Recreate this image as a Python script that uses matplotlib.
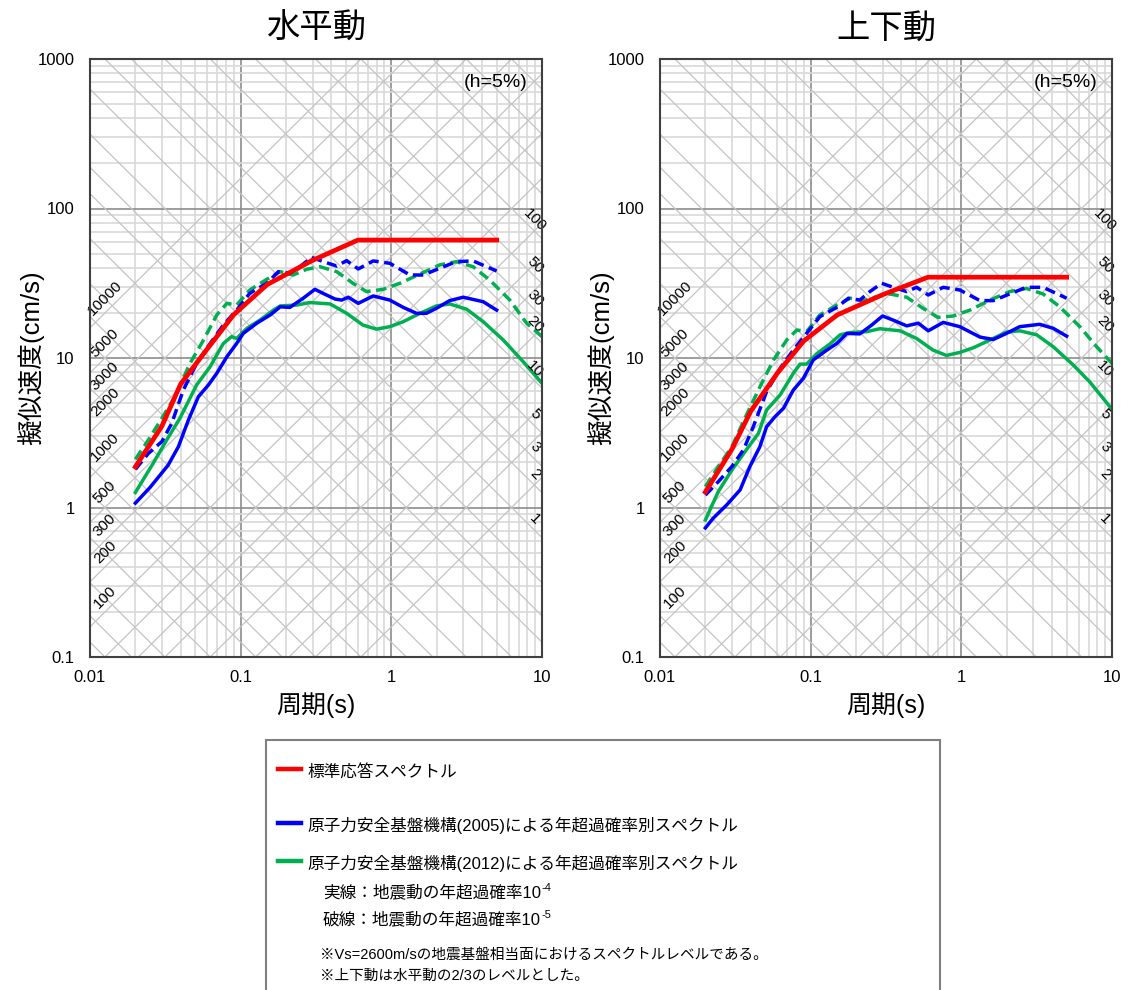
import numpy as np
import matplotlib
matplotlib.use('Agg')
import matplotlib.pyplot as plt
from matplotlib.lines import Line2D
from matplotlib.patches import Rectangle
from matplotlib.text import Annotation
from matplotlib.ticker import LogLocator, NullFormatter

plt.rcParams['font.family'] = ['Liberation Sans', 'Noto Sans CJK JP']

# ---------------- data ----------------
TITLES = ['水平動', '上下動']
XLABEL = '周期(s)'
YLABEL = '擬似速度(cm/s)'
X_TICKS = [0.01, 0.1, 1, 10]
X_TICK_LABELS = ['0.01', '0.1', '1', '10']
Y_TICKS = [0.1, 1, 10, 100, 1000]
Y_TICK_LABELS = ['0.1', '1', '10', '100', '1000']
DAMPING = '(h=5%)'

ACC_LINES = [1, 2, 3, 5, 10, 20, 30, 50, 100, 200, 300, 500,
             1000, 2000, 3000, 5000, 10000]
DISP_LINES = [0.0001, 0.0002, 0.0003, 0.0005, 0.001, 0.002, 0.003, 0.005,
              0.01, 0.02, 0.03, 0.05, 0.1, 0.2, 0.3, 0.5, 1, 2, 3, 5,
              10, 20, 30, 50, 100, 200, 300, 500, 1000]
ACC_LABELS = [100, 200, 300, 500, 1000, 2000, 3000, 5000, 10000]
DISP_LABELS = [1, 2, 3, 5, 10, 20, 30, 50, 100]

# Horizontal (水平動)
H_RED_T = [0.02, 0.03, 0.04, 0.06, 0.09, 0.15, 0.30, 0.60, 5.0]
H_RED_V = [1.87, 3.5, 6.7, 11.5, 19.5, 31.0, 45.0, 61.5, 61.5]

H_BLUE_S_T = [0.02, 0.025, 0.033, 0.0386, 0.045, 0.0524, 0.061, 0.0694, 0.081,
              0.094, 0.104, 0.128, 0.157, 0.183, 0.212, 0.26, 0.311, 0.354,
              0.423, 0.468, 0.518, 0.603, 0.758, 0.977, 1.2, 1.47, 1.71, 1.99,
              2.44, 3.0, 4.07, 5.0]
H_BLUE_S_V = [1.07, 1.36, 1.92, 2.55, 3.85, 5.51, 6.59, 7.9, 10.2,
              12.5, 14.6, 17.1, 19.4, 22.0, 21.8, 25.1, 28.8, 27.0,
              24.8, 24.4, 25.5, 23.2, 26.0, 24.4, 21.8, 19.9, 19.9, 21.5,
              24.2, 25.5, 23.8, 20.9]

H_BLUE_D_T = [0.02, 0.0244, 0.030, 0.0349, 0.0416, 0.051, 0.0627, 0.0767, 0.094,
              0.115, 0.149, 0.178, 0.212, 0.247, 0.296, 0.354, 0.434, 0.505,
              0.603, 0.758, 0.977, 1.33, 1.63, 2.09, 2.70, 3.49, 5.0]
H_BLUE_D_V = [1.80, 2.30, 2.76, 3.66, 6.1, 9.2, 12.5, 16.6, 20.9,
              27.1, 31.6, 37.8, 36.8, 40.8, 47.1, 44.1, 41.2, 44.8,
              39.4, 44.6, 43.0, 35.9, 35.9, 39.8, 44.1, 44.6, 38.2]

H_GREEN_S_T = [0.02, 0.0263, 0.0323, 0.0395, 0.051, 0.0627, 0.0767, 0.087, 0.094,
               0.110, 0.134, 0.165, 0.183, 0.235, 0.288, 0.392, 0.505, 0.648,
               0.797, 0.977, 1.20, 1.55, 1.99, 2.44, 3.16, 4.07, 5.53, 7.5, 10.0]
H_GREEN_S_V = [1.26, 1.98, 2.83, 3.95, 6.6, 8.75, 12.5, 13.9, 13.5,
               15.8, 17.9, 20.9, 22.3, 22.6, 23.5, 23.0, 19.9, 16.6,
               15.6, 16.2, 17.5, 19.9, 22.3, 23.0, 21.2, 17.5, 13.2, 9.45, 6.77]

H_GREEN_D_T = [0.02, 0.0244, 0.030, 0.0366, 0.0461, 0.0567, 0.0694, 0.081, 0.094,
               0.115, 0.149, 0.183, 0.223, 0.274, 0.336, 0.434, 0.557, 0.685,
               0.882, 1.14, 1.55, 2.09, 2.70, 3.49, 4.50, 6.12, 7.9, 10.0]
H_GREEN_D_V = [2.10, 2.83, 3.95, 5.5, 9.2, 13.2, 19.4, 23.2, 22.6,
               28.5, 33.6, 37.8, 35.9, 39.2, 40.8, 37.8, 31.6, 27.8,
               28.8, 31.6, 36.5, 41.9, 44.1, 40.8, 33.2, 24.4, 17.1, 13.9]

# Vertical (上下動)
V_RED_T = [0.02, 0.03, 0.04, 0.06, 0.09, 0.15, 0.30, 0.60, 5.0]
V_RED_V = [1.27, 2.45, 4.4, 7.9, 13.0, 19.4, 26.5, 34.7, 34.7]

V_BLUE_S_T = [0.02, 0.0226, 0.0277, 0.034, 0.0395, 0.046, 0.051, 0.058, 0.066,
              0.0767, 0.0894, 0.104, 0.128, 0.149, 0.174, 0.212, 0.254, 0.30,
              0.354, 0.434, 0.518, 0.603, 0.758, 0.977, 1.33, 1.63, 1.99, 2.44,
              3.31, 4.07, 5.0]
V_BLUE_S_V = [0.73, 0.85, 1.04, 1.31, 1.88, 2.55, 3.47, 4.05, 4.61,
              6.1, 7.31, 9.7, 11.3, 12.5, 14.6, 14.5, 16.6, 19.1,
              17.9, 16.4, 17.1, 15.2, 17.3, 16.2, 13.8, 13.3, 14.6, 16.2,
              16.8, 15.8, 14.0]

V_BLUE_D_T = [0.02, 0.0244, 0.030, 0.0358, 0.0416, 0.051, 0.0627, 0.0767, 0.094,
              0.115, 0.149, 0.178, 0.212, 0.247, 0.296, 0.354, 0.434, 0.505,
              0.603, 0.758, 0.977, 1.33, 1.63, 2.09, 2.70, 3.49, 5.0]
V_BLUE_D_V = [1.21, 1.49, 1.88, 2.43, 3.47, 5.96, 8.53, 11.3, 14.6,
              18.9, 21.8, 25.1, 24.4, 27.8, 31.6, 29.7, 27.8, 29.7,
              26.4, 29.7, 28.5, 24.2, 24.2, 26.8, 29.7, 29.7, 25.1]

V_GREEN_S_T = [0.02, 0.0244, 0.030, 0.0366, 0.045, 0.051, 0.0627, 0.0767, 0.085,
               0.094, 0.110, 0.134, 0.157, 0.183, 0.235, 0.288, 0.392, 0.505,
               0.648, 0.797, 0.977, 1.20, 1.55, 1.99, 2.44, 3.16, 4.07, 5.53,
               7.1, 10.0]
V_GREEN_S_V = [0.825, 1.28, 1.78, 2.36, 3.13, 4.49, 5.66, 7.9, 9.1,
               9.1, 10.7, 12.4, 14.3, 14.8, 15.0, 15.7, 15.2, 13.5,
               11.3, 10.4, 10.9, 11.7, 13.2, 14.9, 15.2, 14.3, 11.9, 8.98,
               6.94, 4.54]

V_GREEN_D_T = [0.02, 0.0244, 0.030, 0.0366, 0.0461, 0.0567, 0.0694, 0.081, 0.094,
               0.115, 0.149, 0.183, 0.223, 0.274, 0.336, 0.434, 0.557, 0.70,
               0.882, 1.14, 1.55, 2.09, 2.70, 3.49, 4.50, 6.12, 7.9, 10.0]
V_GREEN_D_V = [1.38, 1.88, 2.55, 3.95, 6.43, 9.7, 13.2, 15.4, 15.0,
               19.4, 22.6, 25.1, 24.2, 25.7, 26.8, 25.5, 21.5, 18.7,
               19.1, 20.9, 24.4, 27.8, 29.2, 26.8, 22.0, 16.2, 11.9, 9.2]

LEGEND_MAIN = ['標準応答スペクトル',
               '原子力安全基盤機構(2005)による年超過確率別スペクトル',
               '原子力安全基盤機構(2012)による年超過確率別スペクトル']
LEGEND_SUB = [('実線：地震動の年超過確率10', '-4'),
              ('破線：地震動の年超過確率10', '-5')]
LEGEND_NOTES = ['※Vs=2600m/sの地震基盤相当面におけるスペクトルレベルである。',
                '※上下動は水平動の2/3のレベルとした。']

RED = '#FF0000'
BLUE = '#0000FF'
GREEN = '#00B050'

# ---------------- figure ----------------
W, H = 1129, 990
fig = plt.figure(figsize=(W / 100, H / 100), dpi=100)


def fx(px):
    return px / W


def fy(py):
    return 1 - py / H


AX_LEFTS = [90, 660]
AX_TOP, AX_W, AX_H = 59, 452, 598
TWO_PI = 2 * np.pi


def setup(ax):
    ax.set_xscale('log')
    ax.set_yscale('log')
    ax.set_xlim(0.01, 10)
    ax.set_ylim(0.1, 1000)
    ax.set_xticks(X_TICKS)
    ax.set_xticklabels(X_TICK_LABELS)
    ax.set_yticks(Y_TICKS)
    ax.set_yticklabels(Y_TICK_LABELS)
    for axis in (ax.xaxis, ax.yaxis):
        axis.set_minor_locator(LogLocator(base=10, subs=np.arange(2, 10)))
        axis.set_minor_formatter(NullFormatter())
    ax.tick_params(which='both', length=0)
    ax.tick_params(axis='x', pad=9, labelsize=12)
    ax.tick_params(axis='y', pad=11, labelsize=12)
    ax.set_axisbelow(True)
    ax.grid(True, which='minor', color='#d9d9d9', lw=1.2)
    ax.grid(True, which='major', color='#8c8c8c', lw=1.2)
    t = np.array([0.01, 10.0])
    for a in ACC_LINES:
        ax.plot(t, a * t / TWO_PI, color='#c4c4c4', lw=0.9, zorder=1)
    for d in DISP_LINES:
        ax.plot(t, TWO_PI * d / t, color='#c4c4c4', lw=0.9, zorder=1)
    for s in ax.spines.values():
        s.set_color('#404040')
        s.set_linewidth(1.5)
        s.set_zorder(6)
    # tripartite labels
    ta = 0.01258
    for a in ACC_LABELS:
        ax.text(ta, a * ta / TWO_PI * 1.26, str(a), rotation=45, fontsize=11,
                ha='center', va='center', rotation_mode='anchor', zorder=5)
    td = 8.97
    for d in DISP_LABELS:
        ax.text(td, TWO_PI * d / td * 1.2, str(d), rotation=-45, fontsize=11,
                ha='center', va='center', rotation_mode='anchor', zorder=5,
                clip_on=False)
    ax.text(0.969, 0.9615, DAMPING, transform=ax.transAxes, fontsize=14,
            ha='right', va='center', zorder=5)


def draw(ax, curves):
    (gdT, gdV), (gsT, gsV), (bdT, bdV), (bsT, bsV), (rT, rV) = curves
    ax.plot(gdT, gdV, color=GREEN, lw=2.5, ls=(0, (3, 1.6)), zorder=3)
    ax.plot(gsT, gsV, color=GREEN, lw=2.5, zorder=3)
    ax.plot(bdT, bdV, color=BLUE, lw=2.5, ls=(0, (3, 1.6)), zorder=3)
    ax.plot(bsT, bsV, color=BLUE, lw=2.5, zorder=3)
    ax.plot(rT, rV, color=RED, lw=3.4, zorder=4)


curve_sets = [
    [(H_GREEN_D_T, H_GREEN_D_V), (H_GREEN_S_T, H_GREEN_S_V),
     (H_BLUE_D_T, H_BLUE_D_V), (H_BLUE_S_T, H_BLUE_S_V), (H_RED_T, H_RED_V)],
    [(V_GREEN_D_T, V_GREEN_D_V), (V_GREEN_S_T, V_GREEN_S_V),
     (V_BLUE_D_T, V_BLUE_D_V), (V_BLUE_S_T, V_BLUE_S_V), (V_RED_T, V_RED_V)],
]

for i, left in enumerate(AX_LEFTS):
    ax = fig.add_axes([fx(left), fy(AX_TOP + AX_H), AX_W / W, AX_H / H])
    setup(ax)
    draw(ax, curve_sets[i])
    cx = left + AX_W / 2
    fig.text(fx(cx), fy(29), TITLES[i], fontsize=24, ha='center', va='center')
    fig.text(fx(cx), fy(705), XLABEL, fontsize=18, ha='center', va='center')
    fig.text(fx(left - 59), fy(AX_TOP + AX_H / 2), YLABEL, fontsize=18.5,
             rotation=90, ha='center', va='center')

# ---------------- legend box ----------------
fig.patches.append(Rectangle((fx(266), -0.05), (940 - 266) / W, fy(740) + 0.05,
                             transform=fig.transFigure, facecolor='white',
                             edgecolor='#7f7f7f', lw=1.5, zorder=0))
for py, col in [(769, RED), (823, BLUE), (861, GREEN)]:
    fig.add_artist(Line2D([fx(278), fx(301)], [fy(py), fy(py)], color=col, lw=3.2,
                          transform=fig.transFigure))
for py, txt in zip([772, 825, 863], LEGEND_MAIN):
    fig.text(fx(307), fy(py), txt, fontsize=12, ha='left', va='center')
for py, (txt, sup) in zip([892, 919], LEGEND_SUB):
    t = fig.text(fx(323), fy(py), txt, fontsize=12, ha='left', va='center')
    fig.add_artist(Annotation(sup, xy=(1.0, 0.78), xycoords=t, fontsize=8,
                              ha='left', va='center'))
for py, txt in zip([955, 976], LEGEND_NOTES):
    fig.text(fx(320), fy(py), txt, fontsize=10.5, ha='left', va='center')

fig.savefig('out.png', dpi=100)
